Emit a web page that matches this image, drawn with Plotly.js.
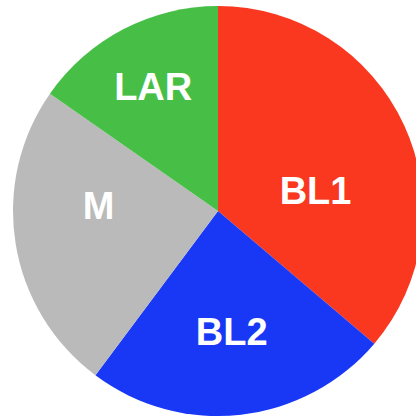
<!DOCTYPE html>
<html>
<head>
<meta charset="utf-8">
<script src="https://cdn.plot.ly/plotly-3.0.1.min.js"></script>
<style>
html,body{margin:0;padding:0;overflow:hidden;background:#fff;width:416px;height:416px;}
#chart{position:absolute;left:0;top:0;width:440px;height:440px;}
</style>
</head>
<body>
<div id="chart"></div>
<script>
var categories = ["BL1", "BL2", "M", "LAR"];
var values = [36.2, 24.0, 24.5, 15.3];
var colors = ["#fa3820", "#1838f5", "#bababa", "#47bf47"];
var labelText = ["&nbsp;<br>BL1", "BL2", "M<br>&nbsp;", "LAR"];

var trace = {
  type: "pie",
  labels: categories,
  values: values,
  text: labelText,
  sort: false,
  direction: "clockwise",
  rotation: 0,
  marker: {colors: colors, line: {width: 0}},
  textinfo: "text",
  textposition: "inside",
  insidetextorientation: "horizontal",
  textfont: {family: "Liberation Sans, Arial, sans-serif", size: 38, color: "#ffffff", weight: "bold"},
  hoverinfo: "label+percent",
  showlegend: false,
  domain: {x: [13/440, 423/440], y: [24/440, 434/440]}
};

var layout = {
  width: 440,
  height: 440,
  margin: {l: 0, r: 0, t: 0, b: 0, pad: 0},
  paper_bgcolor: "#ffffff",
  showlegend: false
};

Plotly.newPlot("chart", [trace], layout, {displayModeBar: false, staticPlot: true});
</script>
</body>
</html>
